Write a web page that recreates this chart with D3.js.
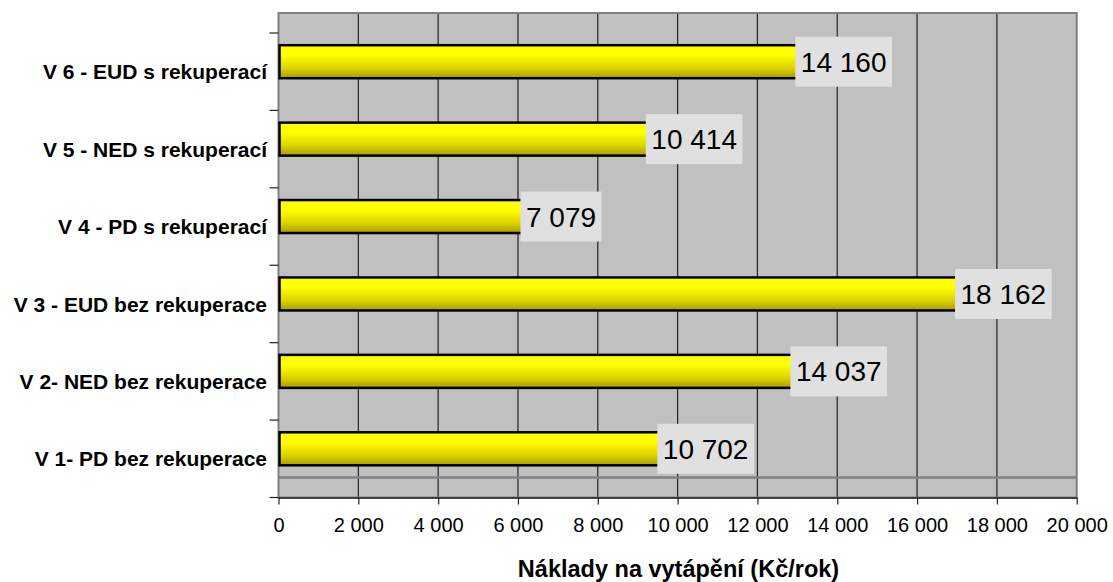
<!DOCTYPE html>
<html>
<head>
<meta charset="utf-8">
<script src="https://cdn.jsdelivr.net/npm/d3@7"></script>
<style>
  body { margin: 0; background: #fff; }
  svg { display: block; font-family: Arial, "Liberation Sans", sans-serif; }
</style>
</head>
<body>
<svg id="chart" width="1113" height="582"></svg>
<script>
// Heating cost per variant (Kč/rok), listed top to bottom
const categories = [
  "V 6 - EUD s rekuperací",
  "V 5 - NED s rekuperací",
  "V 4 - PD s rekuperací",
  "V 3 - EUD bez rekuperace",
  "V 2- NED bez rekuperace",
  "V 1- PD bez rekuperace"
];
const values = [14160, 10414, 7079, 18162, 14037, 10702];
const xTicks = [0, 2000, 4000, 6000, 8000, 10000, 12000, 14000, 16000, 18000, 20000];
const axisTitle = "Náklady na vytápění (Kč/rok)";

const svg = d3.select("#chart");
const pLeft = 278.5, pRight = 1076.7, pTop = 13, pBottom = 497.5;
const depth = 20; // back wall offset of the 3D-style plot

const fmt = v => d3.format(",")(v).replace(/,/g, " ");

const x = d3.scaleLinear().domain([0, 20000]).range([pLeft, pRight]);
const y = d3.scaleBand().domain(categories).range([pTop + depth, pBottom]).paddingInner(0).paddingOuter(0);

// gradient for bars
const defs = svg.append("defs");
const g = defs.append("linearGradient").attr("id", "barGrad").attr("x1", 0).attr("y1", 0).attr("x2", 0).attr("y2", 1);
g.append("stop").attr("offset", "0").attr("stop-color", "#ffff00");
g.append("stop").attr("offset", "0.3").attr("stop-color", "#ffff00");
g.append("stop").attr("offset", "0.7").attr("stop-color", "#ddd200");
g.append("stop").attr("offset", "1").attr("stop-color", "#a89c00");

// plot background
svg.append("rect")
  .attr("x", pLeft).attr("y", pTop)
  .attr("width", pRight - pLeft).attr("height", pBottom - pTop)
  .attr("fill", "#c0c0c0");

// vertical gridlines
svg.append("g").selectAll("line")
  .data(xTicks.slice(1, -1))
  .join("line")
  .attr("x1", d => x(d)).attr("x2", d => x(d))
  .attr("y1", pTop).attr("y2", pBottom)
  .attr("stroke", "#222").attr("stroke-width", 1.2);

// floor line of the back wall
svg.append("line")
  .attr("x1", pLeft).attr("x2", pRight)
  .attr("y1", pBottom - depth).attr("y2", pBottom - depth)
  .attr("stroke", "#808080").attr("stroke-width", 2.5);

// plot border
svg.append("rect")
  .attr("x", pLeft).attr("y", pTop)
  .attr("width", pRight - pLeft).attr("height", pBottom - pTop)
  .attr("fill", "none").attr("stroke", "#808080").attr("stroke-width", 2);

// bars
const barH = 33;
svg.append("g").selectAll("rect")
  .data(values)
  .join("rect")
  .attr("x", x(0) + 1)
  .attr("y", (d, i) => y(categories[i]) + y.bandwidth() / 2 - depth / 2 - barH / 2)
  .attr("width", d => x(d) - x(0) - 1)
  .attr("height", barH)
  .attr("fill", "url(#barGrad)")
  .attr("stroke", "#000").attr("stroke-width", 2.5);

// bottom axis
const xAxis = d3.axisBottom(x).tickValues(xTicks).tickFormat(fmt).tickSize(7).tickSizeOuter(0);
const gx = svg.append("g").attr("transform", `translate(0,${pBottom})`).call(xAxis);
gx.select(".domain").attr("stroke", "#222").attr("stroke-width", 1.5);
gx.selectAll(".tick line").attr("stroke", "#222").attr("stroke-width", 1.2);
gx.selectAll(".tick text")
  .attr("font-size", 20).attr("fill", "#000")
  .attr("y", 34.5).attr("dy", 0)
  .attr("font-family", "Arial, 'Liberation Sans', sans-serif");

// left axis ticks at band edges
const edges = categories.map(c => y(c)).concat([pBottom]);
svg.append("g").selectAll("line")
  .data(edges)
  .join("line")
  .attr("x1", pLeft - 9).attr("x2", pLeft)
  .attr("y1", d => d).attr("y2", d => d)
  .attr("stroke", "#222").attr("stroke-width", 1.2);

// category labels
svg.append("g").selectAll("text")
  .data(categories)
  .join("text")
  .attr("x", 267)
  .attr("y", d => y(d) + y.bandwidth() / 2)
  .attr("dy", "0.36em")
  .attr("text-anchor", "end")
  .attr("font-size", 21)
  .attr("font-weight", "bold")
  .text(d => d);

// value labels centred on each bar end
const labels = svg.append("g").selectAll("g")
  .data(values)
  .join("g")
  .attr("transform", (d, i) => `translate(${x(d)},${y(categories[i]) + y.bandwidth() / 2 - depth / 2})`);
labels.each(function(d) {
  const gg = d3.select(this);
  const t = gg.append("text")
    .attr("text-anchor", "middle").attr("dy", "0.36em")
    .attr("font-size", 28).attr("fill", "#000")
    .text(fmt(d));
  const w = t.node().getComputedTextLength();
  gg.insert("rect", "text")
    .attr("x", -w / 2 - 5.5).attr("y", -25)
    .attr("width", w + 11).attr("height", 50)
    .attr("fill", "#e0e0e0");
});

// axis title
svg.append("text")
  .attr("x", 678.5).attr("y", 577)
  .attr("text-anchor", "middle")
  .attr("font-size", 23.5)
  .attr("font-weight", "bold")
  .text(axisTitle);
</script>
</body>
</html>
